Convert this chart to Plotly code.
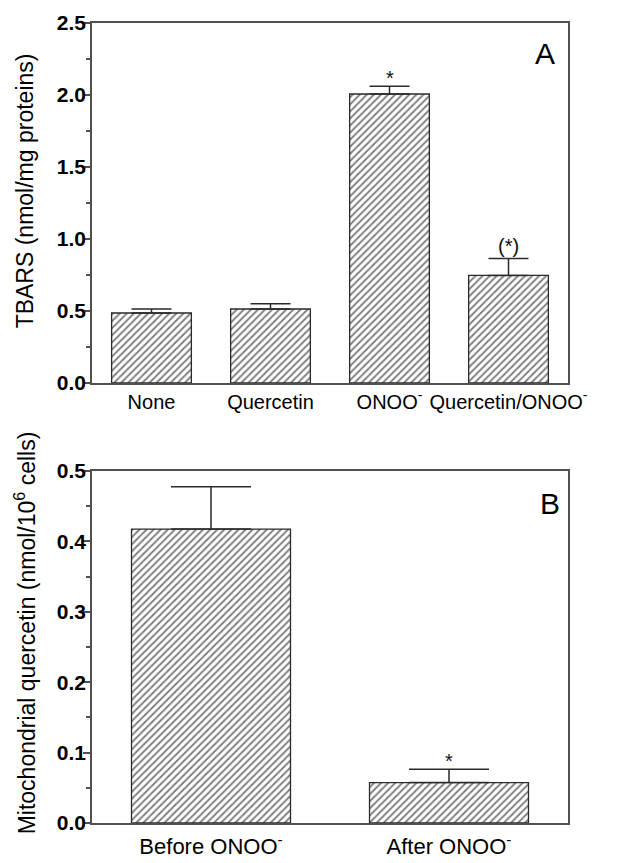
import plotly.graph_objects as go
from plotly.subplots import make_subplots

# Panel A data
cats_a = ["None", "Quercetin", "ONOO<sup>-</sup>", "Quercetin/ONOO<sup>-</sup>"]
tbars = [0.486, 0.514, 2.007, 0.747]
tbars_err = [0.028, 0.037, 0.053, 0.118]
sig_a = ["", "", "*", "(*)"]

# Panel B data
cats_b = ["Before ONOO<sup>-</sup>", "After ONOO<sup>-</sup>"]
mito_q = [0.4175, 0.0574]
mito_q_err = [0.060, 0.019]
sig_b = ["", "*"]

title_a = "TBARS (nmol/mg proteins)"
title_b = "Mitochondrial quercetin (nmol/10<sup>6</sup> cells)"

FONT = "Liberation Sans, Arial, sans-serif"
FRAME = "#505050"
EDGE = "#2a2a2a"

fig = make_subplots(rows=2, cols=1)

pattern = dict(shape="/", fgcolor="#000000", bgcolor="white", size=5, solidity=0.38)

fig.add_trace(go.Bar(
    x=cats_a, y=tbars, width=0.67,
    marker=dict(color="white", pattern=pattern, line=dict(color=EDGE, width=1.3)),
    error_y=dict(type="data", array=tbars_err, arrayminus=[0]*len(tbars_err), symmetric=False,
                 color=EDGE, thickness=1.5, width=20),
    showlegend=False, hoverinfo="skip"), row=1, col=1)

fig.add_trace(go.Bar(
    x=cats_b, y=mito_q, width=0.668,
    marker=dict(color="white", pattern=pattern, line=dict(color=EDGE, width=1.3)),
    error_y=dict(type="data", array=mito_q_err, arrayminus=[0]*len(mito_q_err), symmetric=False,
                 color=EDGE, thickness=1.5, width=40),
    showlegend=False, hoverinfo="skip"), row=2, col=1)

# significance marks
for c, v, e, s in zip(cats_a, tbars, tbars_err, sig_a):
    if s:
        fig.add_annotation(x=c, y=v + e, xref="x", yref="y", text=s, showarrow=False,
                           xanchor="center", yanchor="bottom", yshift=(-5 if s == "*" else -1),
                           font=dict(family=FONT, size=20, color="#111"))
for c, v, e, s in zip(cats_b, mito_q, mito_q_err, sig_b):
    if s:
        fig.add_annotation(x=c, y=v + e, xref="x2", yref="y2", text=s, showarrow=False,
                           xanchor="center", yanchor="bottom", yshift=-5,
                           font=dict(family=FONT, size=20, color="#111"))

# panel letters
fig.add_annotation(x=0.952, y=0.915, xref="x domain", yref="y domain", text="A", showarrow=False,
                   xanchor="center", yanchor="middle", font=dict(family=FONT, size=30, color="black"))
fig.add_annotation(x=0.962, y=0.908, xref="x2 domain", yref="y2 domain", text="B", showarrow=False,
                   xanchor="center", yanchor="middle", font=dict(family=FONT, size=30, color="black"))

# y-axis titles (rotated text)
fig.add_annotation(x=-0.14, y=0.79, xref="paper", yref="paper", text=title_a, showarrow=False,
                   textangle=-90, xanchor="center", yanchor="middle",
                   font=dict(family=FONT, size=23, color="black"))
fig.add_annotation(x=-0.14, y=0.2375, xref="paper", yref="paper", text=title_b, showarrow=False,
                   textangle=-90, xanchor="center", yanchor="middle",
                   font=dict(family=FONT, size=23, color="black"))

xaxis_common = dict(showline=True, linecolor=FRAME, linewidth=1.5, mirror=True, ticks="",
                    showgrid=False, tickangle=0)
yaxis_common = dict(showline=True, linecolor=FRAME, linewidth=1.5, mirror=True, ticks="outside",
                    ticklen=7, tickwidth=1.5, tickcolor=FRAME, showgrid=False, zeroline=False,
                    ticklabelstandoff=-7,
                    tickfont=dict(family=FONT, size=21, color="black", weight="bold"))

fig.update_xaxes(**xaxis_common, range=[-0.5, 3.5],
                 tickfont=dict(family=FONT, size=20, color="black"), row=1, col=1)
fig.update_xaxes(**xaxis_common, range=[-0.5, 1.5], ticklabelstandoff=3,
                 tickfont=dict(family=FONT, size=22, color="black"), row=2, col=1)
fig.update_yaxes(**yaxis_common, range=[0, 2.5], dtick=0.5, tickformat=".1f",
                 minor=dict(dtick=0.25, ticks="outside", ticklen=4, tickwidth=1.5, tickcolor=FRAME),
                 row=1, col=1)
fig.update_yaxes(**yaxis_common, range=[0, 0.5], dtick=0.1, tickformat=".1f",
                 minor=dict(dtick=0.05, ticks="outside", ticklen=4, tickwidth=1.5, tickcolor=FRAME),
                 row=2, col=1)

# page body has an 8px margin, so the figure is 8px smaller than the window
fig.update_layout(width=622, height=855, margin=dict(l=84, r=62, t=15, b=40, autoexpand=False),
                  plot_bgcolor="white", paper_bgcolor="white",
                  font=dict(family=FONT))
fig.update_xaxes(automargin=False)
fig.update_yaxes(automargin=False)
fig.update_yaxes(domain=[0.55, 1.0], row=1, col=1)
fig.update_yaxes(domain=[0.0, 0.44], row=2, col=1)

fig.write_html("out.html")
